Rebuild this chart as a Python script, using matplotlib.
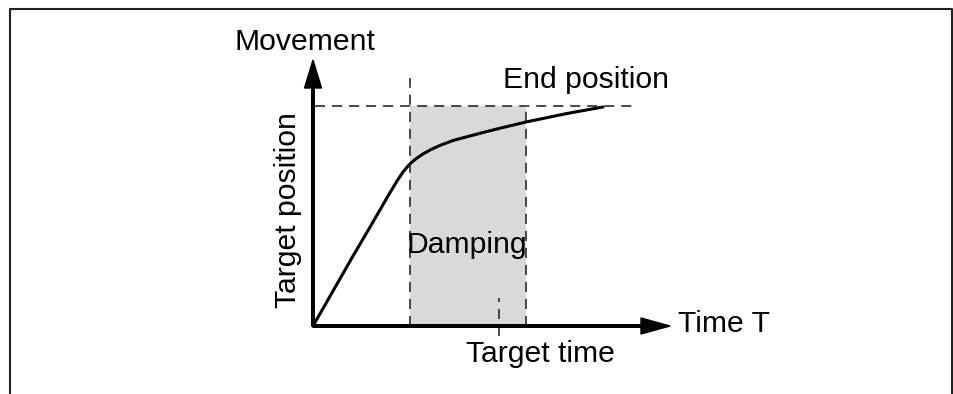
import matplotlib
matplotlib.use("Agg")
import matplotlib.pyplot as plt
from matplotlib.patches import Rectangle

# ---- data (time units, movement units) ----
curve_t = [0, 20, 40, 60, 75, 84, 90, 95, 99, 104, 110, 118, 128, 140, 155, 172, 190, 213, 254, 290]
curve_pos = [0, 35, 70, 104, 130, 145, 154, 160, 164, 168, 172, 176.5, 181, 185.5, 189.5, 194, 198.5, 204, 212.5, 219]
damping_start = 97
damping_end = 213
target_time = 186
end_position = 220
labels = {
    "y": "Movement",
    "x": "Time T",
    "ylab": "Target position",
    "end": "End position",
    "tt": "Target time",
    "damp": "Damping",
}

plt.rcParams['font.family'] = ['Liberation Sans', 'DejaVu Sans']
fig = plt.figure(figsize=(9.54, 3.94), dpi=100)
ax = fig.add_axes([0, 0, 1, 1])
ax.set_xlim(-313, 641)
ax.set_ylim(-68, 326)
ax.axis('off')

# frame
fig.add_artist(plt.Line2D([10.5/954, 10.5/954, 952.5/954, 952.5/954],
                          [0, 1 - 8.5/394, 1 - 8.5/394, 0],
                          transform=fig.transFigure, color='#222222', lw=1.5))

dash = (0, (5.8, 4.0))
dcol = '#333333'
dlw = 1.25

# shaded damping region
ax.add_patch(Rectangle((damping_start, 0), damping_end - damping_start, end_position,
                       facecolor='#d9d9db', edgecolor='none', zorder=1))
# dashed guides
ax.plot([damping_start, damping_start], [0, 248], ls=dash, color=dcol, lw=dlw, zorder=2)
ax.plot([damping_end, damping_end], [0, end_position], ls=dash, color=dcol, lw=dlw, zorder=2)
ax.plot([2, 323], [end_position, end_position], ls=dash, color=dcol, lw=dlw, zorder=2)
ax.plot([target_time, target_time], [-10, 28], ls=dash, color=dcol, lw=dlw, zorder=2)

# curve
ax.plot(curve_t, curve_pos, color='black', lw=2.2, zorder=4,
        solid_capstyle='round', solid_joinstyle='round')

# axes arrows
ax.arrow(0, 0, 0, 266, width=2.6, head_width=17, head_length=28,
         length_includes_head=True, color='black', zorder=5)
ax.arrow(0, 0, 357, 0, width=2.6, head_width=16, head_length=29,
         length_includes_head=True, color='black', zorder=5)

fs = 21.7
ax.text(-8, 284, labels["y"], fontsize=fs, ha='center', va='center')
ax.text(273, 246, labels["end"], fontsize=fs, ha='center', va='center')
ax.text(365, 2, labels["x"], fontsize=fs, ha='left', va='center')
ax.text(227, -28, labels["tt"], fontsize=fs, ha='center', va='center')
ax.text(154, 81, labels["damp"], fontsize=fs, ha='center', va='center', zorder=6)
ax.text(-25, 116, labels["ylab"], fontsize=fs, ha='center', va='center', rotation=90)

fig.savefig('out.png', dpi=100)
